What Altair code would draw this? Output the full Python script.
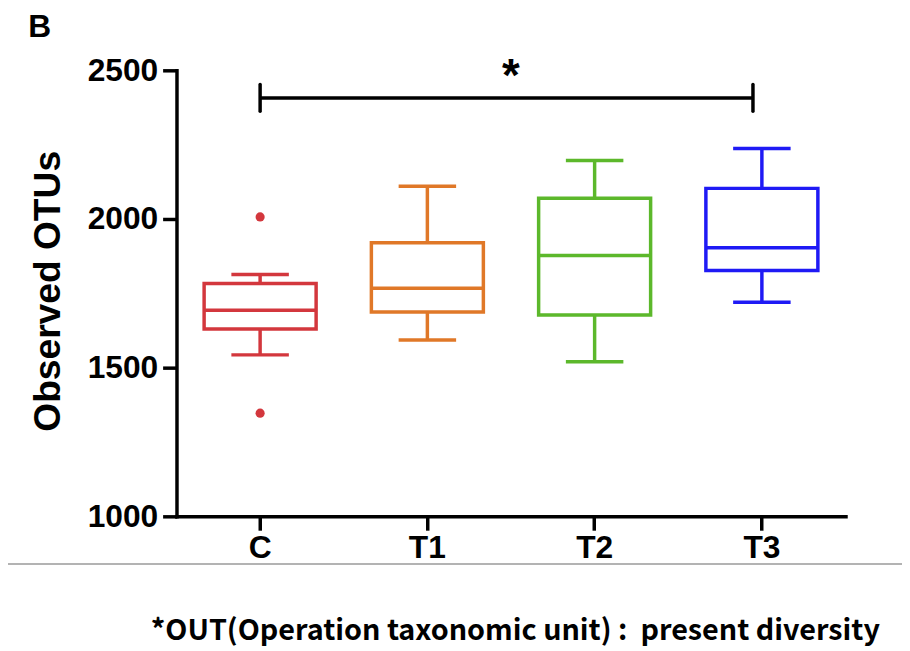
import altair as alt
import pandas as pd

groups = ["C", "T1", "T2", "T3"]
colors = ["#D3373D", "#E07828", "#5CB82B", "#1F1AF5"]
lower_whisker = [1543, 1593, 1520, 1720]
q1 = [1630, 1687, 1677, 1827]
median = [1693, 1767, 1877, 1903]
q3 = [1783, 1920, 2070, 2103]
upper_whisker = [1813, 2110, 2197, 2237]

outlier_groups = ["C", "C"]
outlier_values = [2007, 1347]

sig_from = "C"
sig_to = "T3"
sig_level = 2407
sig_label = "*"

y_title = "Observed OTUs"
panel_label = "B"
footnote = "*OUT(Operation taxonomic unit) :\u00a0 present diversity"

df = pd.DataFrame({"group": groups, "lo": lower_whisker, "q1": q1,
                   "med": median, "q3": q3, "hi": upper_whisker})
out_df = pd.DataFrame({"group": outlier_groups, "value": outlier_values})

FONT = "Liberation Sans"
LW = 3.5

xscale = alt.Scale(domain=groups, paddingInner=0, paddingOuter=0)
yscale = alt.Scale(domain=[1000, 2500], nice=False, zero=False)
cscale = alt.Scale(domain=groups, range=colors)

xenc = alt.X("group:N", scale=xscale, sort=groups,
             axis=alt.Axis(title=None, labelAngle=0, labelPadding=3))
color = alt.Color("group:N", scale=cscale, legend=None)

base = alt.Chart(df)

box = base.mark_bar(size=113, fillOpacity=0, strokeWidth=LW, strokeOpacity=1).encode(
    x=xenc,
    y=alt.Y("q1:Q", scale=yscale,
            axis=alt.Axis(title=None, values=[1000, 1500, 2000, 2500], format="d")),
    y2="q3:Q",
    stroke=color,
)
med = base.mark_tick(size=113, thickness=LW, opacity=1).encode(x=xenc, y=alt.Y("med:Q", scale=yscale), color=color)
wlow = base.mark_rule(strokeWidth=LW, opacity=1).encode(x=xenc, y=alt.Y("lo:Q", scale=yscale), y2="q1:Q", color=color)
whigh = base.mark_rule(strokeWidth=LW, opacity=1).encode(x=xenc, y=alt.Y("q3:Q", scale=yscale), y2="hi:Q", color=color)
cap_lo = base.mark_tick(size=58, thickness=LW, opacity=1).encode(x=xenc, y=alt.Y("lo:Q", scale=yscale), color=color)
cap_hi = base.mark_tick(size=58, thickness=LW, opacity=1).encode(x=xenc, y=alt.Y("hi:Q", scale=yscale), color=color)

outl = alt.Chart(out_df).mark_circle(size=85, opacity=1).encode(
    x=alt.X("group:N", scale=xscale, sort=groups),
    y=alt.Y("value:Q", scale=yscale),
    color=alt.Color("group:N", scale=cscale, legend=None),
)

sig_df = pd.DataFrame({"a": [sig_from], "b": [sig_to], "y": [sig_level],
                       "ylo": [sig_level - 45], "yhi": [sig_level + 45]})
sig_bar = alt.Chart(sig_df).mark_rule(strokeWidth=LW, color="black", x2Offset=-9).encode(
    x=alt.X("a:N", scale=xscale), x2="b:N", y=alt.Y("y:Q", scale=yscale))
sig_end1 = alt.Chart(sig_df).mark_rule(strokeWidth=LW, color="black", strokeCap="round").encode(
    x=alt.X("a:N", scale=xscale), y=alt.Y("ylo:Q", scale=yscale), y2="yhi:Q")
sig_end2 = alt.Chart(sig_df).mark_rule(strokeWidth=LW, color="black", strokeCap="round", xOffset=-9).encode(
    x=alt.X("b:N", scale=xscale), y=alt.Y("ylo:Q", scale=yscale), y2="yhi:Q")
star_df = pd.DataFrame({"g": ["T2"], "y": [sig_level + 25], "t": [sig_label]})
star = alt.Chart(star_df).mark_text(font=FONT, fontSize=46, fontWeight="bold", baseline="alphabetic",
                                    align="center", color="black").encode(
    x=alt.X("g:N", scale=xscale, bandPosition=0), y=alt.Y("y:Q", scale=yscale), text="t:N")

ann = alt.Chart(pd.DataFrame({"t": [y_title]})).mark_text(
    font=FONT, fontSize=37.5, fontWeight="bold", angle=270, baseline="middle", align="center", color="black"
).encode(x=alt.value(-129), y=alt.value(223), text="t:N")

plabel = alt.Chart(pd.DataFrame({"t": [panel_label]})).mark_text(
    font=FONT, fontSize=32, fontWeight="bold", baseline="middle", align="center", color="black"
).encode(x=alt.value(-138), y=alt.value(-44), text="t:N")

sep = alt.Chart(pd.DataFrame({"k": [0]})).mark_rule(color="#9a9a9a", strokeWidth=1.5).encode(
    x=alt.value(-180), x2=alt.value(740), y=alt.value(498))

foot = alt.Chart(pd.DataFrame({"t": [footnote]})).mark_text(
    font="Noto Sans CJK KR", fontSize=29, fontWeight="bold", baseline="middle", align="left", color="black"
).encode(x=alt.value(-26), y=alt.value(566), text="t:N")

chart = alt.layer(box, wlow, whigh, cap_lo, cap_hi, med, outl, sig_bar, sig_end1, sig_end2, star,
                  ann, plabel, sep, foot).properties(
    width=675, height=450,
    autosize=alt.AutoSizeParams(type="none"),
    padding={"left": 170, "top": 60, "right": 57, "bottom": 133},
).configure_view(stroke=None).configure_axis(
    domainColor="black", domainWidth=LW, domainCap="square",
    tickColor="black", tickWidth=LW, tickSize=14,
    labelFont=FONT, labelFontSize=32, labelFontWeight="bold", labelColor="black",
    grid=False,
).configure_axisY(labelPadding=5)

chart.save("out.html", embed_options={"renderer": "svg", "actions": False})
